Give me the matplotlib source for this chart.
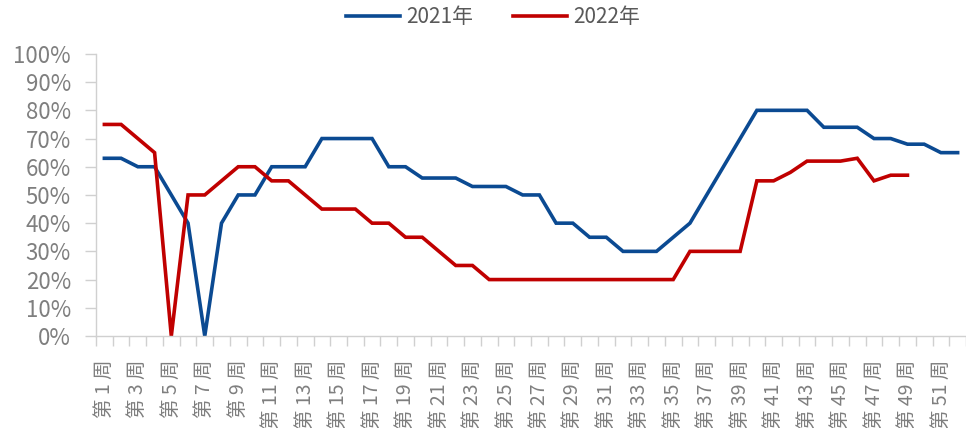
import numpy as np
import matplotlib
matplotlib.use("Agg")
import matplotlib.pyplot as plt
from matplotlib.ticker import FixedLocator, PercentFormatter

plt.rcParams['font.family'] = ['Noto Sans CJK SC', 'DejaVu Sans']

weeks = list(range(1, 53))
week_labels = [f"第 {w} 周" for w in weeks]

rate_2021 = [63, 63, 60, 60, 50, 40, 0, 40, 50, 50,
             60, 60, 60, 70, 70, 70, 70, 60, 60, 56,
             56, 56, 53, 53, 53, 50, 50, 40, 40, 35,
             35, 30, 30, 30, 35, 40, 50, 60, 70, 80,
             80, 80, 80, 74, 74, 74, 70, 70, 68, 68,
             65, 65]
rate_2022 = [75, 75, 70, 65, 0, 50, 50, 55, 60, 60,
             55, 55, 50, 45, 45, 45, 40, 40, 35, 35,
             30, 25, 25, 20, 20, 20, 20, 20, 20, 20,
             20, 20, 20, 20, 20, 30, 30, 30, 30, 55,
             55, 58, 62, 62, 62, 63, 55, 57, 57, np.nan,
             np.nan, np.nan]

series_names = ["2021年", "2022年"]
colors = ["#0B4A92", "#C00000"]

fig = plt.figure(figsize=(9.66, 4.28), dpi=100)
ax = fig.add_axes([0.0994, 0.215, 0.9006, 0.659])

x = np.array(weeks)
ax.plot(x, rate_2021, color=colors[0], lw=2.6, label=series_names[0], solid_joinstyle='miter')
ax.plot(x, rate_2022, color=colors[1], lw=2.6, label=series_names[1], solid_joinstyle='miter')

ax.set_xlim(0.5, 52.5)
ax.set_ylim(0, 100)
ax.yaxis.set_major_locator(FixedLocator(np.arange(0, 101, 10)))
ax.yaxis.set_major_formatter(PercentFormatter(decimals=0))

# x ticks at category boundaries, labels on odd weeks
ax.xaxis.set_major_locator(FixedLocator(np.arange(0.5, 53, 1)))
ax.set_xticklabels([])
ax.xaxis.set_minor_locator(FixedLocator([w for w in weeks if w % 2 == 1]))
ax.set_xticklabels([week_labels[w - 1] for w in weeks if w % 2 == 1], minor=True,
                   rotation=90, va='top', ha='center')
ax.tick_params(axis='x', which='minor', length=0, pad=17, labelsize=14, labelcolor='#7F7F7F')
ax.tick_params(axis='x', which='major', length=7, width=1, color='#D0D0D0', direction='out')
ax.tick_params(axis='y', which='major', length=8, width=1, color='#D0D0D0', direction='out',
               labelsize=16, labelcolor='#7F7F7F', pad=10)

for s in ['top', 'right']:
    ax.spines[s].set_visible(False)
for s in ['left', 'bottom']:
    ax.spines[s].set_color('#D0D0D0')
    ax.spines[s].set_linewidth(1)

leg = fig.legend(loc='upper center', bbox_to_anchor=(0.51, 1.03), ncol=2, frameon=False,
                 fontsize=15, handlelength=2.6, columnspacing=1.9, handletextpad=0.3,
                 labelcolor='#595959')

fig.savefig("out.png", dpi=100)
